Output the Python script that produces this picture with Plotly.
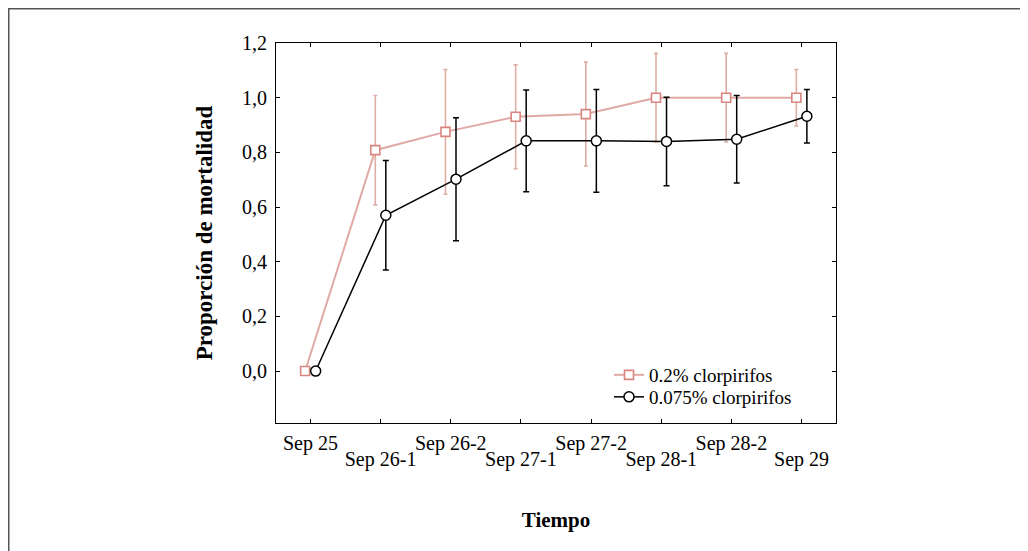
import plotly.graph_objects as go

categories = ["Sep 25", "Sep 26-1", "Sep 26-2", "Sep 27-1", "Sep 27-2", "Sep 28-1", "Sep 28-2", "Sep 29"]
series_high_name = "0.2% clorpirifos"
series_high = [0.0, 0.808, 0.875, 0.93, 0.94, 1.0, 1.0, 1.0]
series_high_err = [0.0, 0.20, 0.228, 0.19, 0.19, 0.162, 0.162, 0.103]
series_low_name = "0.075% clorpirifos"
series_low = [0.0, 0.570, 0.702, 0.842, 0.842, 0.840, 0.848, 0.932]
series_low_err = [0.0, 0.200, 0.225, 0.186, 0.188, 0.162, 0.160, 0.098]
y_ticks = [0.0, 0.2, 0.4, 0.6, 0.8, 1.0, 1.2]

FONT = "Liberation Serif"
PINK_LINE = "#dfaaa6"
PINK_MARK = "#d98680"
PINK_ERR = "#dcaea4"

idx = list(range(len(categories)))
off = 0.075
x_high = [i - off for i in idx]
x_low = [i + off for i in idx]

fig = go.Figure()
fig.add_trace(go.Scatter(
    x=x_high, y=series_high, name=series_high_name, mode="lines+markers", legend="legend",
    line=dict(color=PINK_LINE, width=2),
    marker=dict(symbol="square", size=9, color="white", line=dict(color=PINK_MARK, width=1.6)),
    error_y=dict(type="data", array=series_high_err, visible=True, color=PINK_ERR, thickness=1.6, width=2),
))
fig.add_trace(go.Scatter(
    x=x_low, y=series_low, name=series_low_name, mode="lines+markers", legend="legend2",
    line=dict(color="black", width=1.5),
    marker=dict(symbol="circle", size=10, color="white", line=dict(color="black", width=1.5)),
    error_y=dict(type="data", array=series_low_err, visible=True, color="black", thickness=1.5, width=3),
))
# invisible trace holding the second (staggered) row of tick labels
fig.add_trace(go.Scatter(x=[idx[0]], y=[None], xaxis="x2", showlegend=False, hoverinfo="skip"))

odd = [i for i in idx if i % 2 == 1]

# figure is placed inside the page's 8px body margin
W, H = 1020, 543
L, R, T, B = 268, 192, 35, 128
pw, ph = W - L - R, H - T - B
pb = T + ph  # plot bottom in figure px

leg_common = dict(x=(601 - L) / pw, xanchor="left", yanchor="top",
                  bgcolor="rgba(0,0,0,0)", borderwidth=0, font=dict(family=FONT, size=19))

fig.update_layout(
    width=W, height=H,
    margin=dict(l=L, r=R, t=T, b=B, autoexpand=False),
    paper_bgcolor="white", plot_bgcolor="white",
    separators=", ",
    font=dict(family=FONT, size=20, color="black"),
    showlegend=True,
    legend=dict(y=(pb - 348) / ph, **leg_common),
    legend2=dict(y=(pb - 370) / ph, **leg_common),
    xaxis=dict(range=[-0.49, 7.49], tickvals=idx,
               ticktext=[categories[i] if i % 2 == 0 else "" for i in idx],
               showline=True, linecolor="black", linewidth=1, mirror="ticks",
               ticks="inside", ticklen=4, tickcolor="black", showgrid=False, zeroline=False,
               ticklabelstandoff=2,
               title=dict(text="<b>Tiempo</b>", font=dict(family=FONT, size=21), standoff=58)),
    xaxis2=dict(range=[-0.49, 7.49], overlaying="x", side="bottom", tickvals=odd,
                ticktext=[categories[i] for i in odd], showline=False, ticks="",
                showgrid=False, zeroline=False, ticklabelstandoff=22, anchor="y"),
    yaxis=dict(range=[-0.19, 1.2], tickvals=y_ticks, tickformat=".1f",
               showline=True, linecolor="black", linewidth=1, mirror="ticks",
               ticks="inside", ticklen=4, tickcolor="black", showgrid=False, zeroline=False,
               ticklabelstandoff=4,
               title=dict(text="<b>Proporción de mortalidad</b>", font=dict(family=FONT, size=23), standoff=22)),
    shapes=[dict(type="rect", xref="paper", yref="paper",
                 x0=(0.75 - L) / pw, x1=(1016 - L) / pw, y0=(pb - 600) / ph, y1=(pb - 0.75) / ph,
                 line=dict(color="#555555", width=1.5), fillcolor="rgba(0,0,0,0)", layer="below")],
)

fig.write_html("out.html")
